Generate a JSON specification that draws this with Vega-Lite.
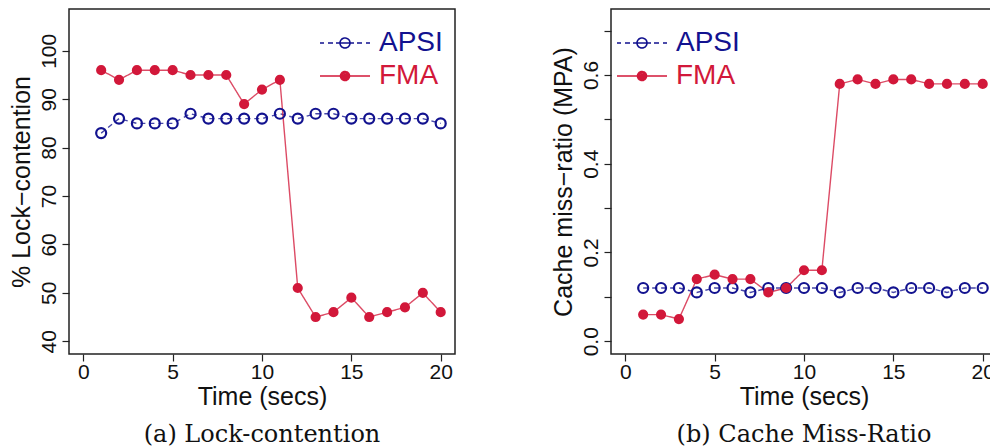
{
  "$schema": "https://vega.github.io/schema/vega-lite/v6.json",
  "padding": {"left": 8, "top": 8, "right": 0, "bottom": 0},
  "autosize": {"type": "pad"},
  "spacing": 94,
  "resolve": {"scale": {"color": "independent"}, "legend": {"color": "independent"}},
  "config": {
    "view": {"stroke": "#222222", "strokeWidth": 1.5},
    "axis": {
      "domain": false, "grid": false, "tickColor": "#222222", "tickSize": 7, "tickWidth": 1.2,
      "labelFont": "Liberation Sans", "labelFontSize": 21, "labelColor": "#111111",
      "titleFont": "Liberation Sans", "titleFontSize": 25, "titleFontWeight": "normal", "titleColor": "#111111",
      "labelOverlap": false
    },
    "title": {"font": "DejaVu Serif", "fontSize": 24, "fontWeight": "normal", "color": "#111111"},
    "legend": {
      "padding": 0,
      "labelFont": "Liberation Sans", "labelFontSize": 28, "rowPadding": 5
    }
  },
  "datasets": {
    "lock": [
      {"t": 1, "series": "APSI", "value": 83}, {"t": 2, "series": "APSI", "value": 86}, {"t": 3, "series": "APSI", "value": 85}, {"t": 4, "series": "APSI", "value": 85}, {"t": 5, "series": "APSI", "value": 85},
      {"t": 6, "series": "APSI", "value": 87}, {"t": 7, "series": "APSI", "value": 86}, {"t": 8, "series": "APSI", "value": 86}, {"t": 9, "series": "APSI", "value": 86}, {"t": 10, "series": "APSI", "value": 86},
      {"t": 11, "series": "APSI", "value": 87}, {"t": 12, "series": "APSI", "value": 86}, {"t": 13, "series": "APSI", "value": 87}, {"t": 14, "series": "APSI", "value": 87}, {"t": 15, "series": "APSI", "value": 86},
      {"t": 16, "series": "APSI", "value": 86}, {"t": 17, "series": "APSI", "value": 86}, {"t": 18, "series": "APSI", "value": 86}, {"t": 19, "series": "APSI", "value": 86}, {"t": 20, "series": "APSI", "value": 85},
      {"t": 1, "series": "FMA", "value": 96}, {"t": 2, "series": "FMA", "value": 94}, {"t": 3, "series": "FMA", "value": 96}, {"t": 4, "series": "FMA", "value": 96}, {"t": 5, "series": "FMA", "value": 96},
      {"t": 6, "series": "FMA", "value": 95}, {"t": 7, "series": "FMA", "value": 95}, {"t": 8, "series": "FMA", "value": 95}, {"t": 9, "series": "FMA", "value": 89}, {"t": 10, "series": "FMA", "value": 92},
      {"t": 11, "series": "FMA", "value": 94}, {"t": 12, "series": "FMA", "value": 51}, {"t": 13, "series": "FMA", "value": 45}, {"t": 14, "series": "FMA", "value": 46}, {"t": 15, "series": "FMA", "value": 49},
      {"t": 16, "series": "FMA", "value": 45}, {"t": 17, "series": "FMA", "value": 46}, {"t": 18, "series": "FMA", "value": 47}, {"t": 19, "series": "FMA", "value": 50}, {"t": 20, "series": "FMA", "value": 46}
    ],
    "cache": [
      {"t": 1, "series": "APSI", "value": 0.12}, {"t": 2, "series": "APSI", "value": 0.12}, {"t": 3, "series": "APSI", "value": 0.12}, {"t": 4, "series": "APSI", "value": 0.11}, {"t": 5, "series": "APSI", "value": 0.12},
      {"t": 6, "series": "APSI", "value": 0.12}, {"t": 7, "series": "APSI", "value": 0.11}, {"t": 8, "series": "APSI", "value": 0.12}, {"t": 9, "series": "APSI", "value": 0.12}, {"t": 10, "series": "APSI", "value": 0.12},
      {"t": 11, "series": "APSI", "value": 0.12}, {"t": 12, "series": "APSI", "value": 0.11}, {"t": 13, "series": "APSI", "value": 0.12}, {"t": 14, "series": "APSI", "value": 0.12}, {"t": 15, "series": "APSI", "value": 0.11},
      {"t": 16, "series": "APSI", "value": 0.12}, {"t": 17, "series": "APSI", "value": 0.12}, {"t": 18, "series": "APSI", "value": 0.11}, {"t": 19, "series": "APSI", "value": 0.12}, {"t": 20, "series": "APSI", "value": 0.12},
      {"t": 1, "series": "FMA", "value": 0.06}, {"t": 2, "series": "FMA", "value": 0.06}, {"t": 3, "series": "FMA", "value": 0.05}, {"t": 4, "series": "FMA", "value": 0.14}, {"t": 5, "series": "FMA", "value": 0.15},
      {"t": 6, "series": "FMA", "value": 0.14}, {"t": 7, "series": "FMA", "value": 0.14}, {"t": 8, "series": "FMA", "value": 0.11}, {"t": 9, "series": "FMA", "value": 0.12}, {"t": 10, "series": "FMA", "value": 0.16},
      {"t": 11, "series": "FMA", "value": 0.16}, {"t": 12, "series": "FMA", "value": 0.58}, {"t": 13, "series": "FMA", "value": 0.59}, {"t": 14, "series": "FMA", "value": 0.58}, {"t": 15, "series": "FMA", "value": 0.59},
      {"t": 16, "series": "FMA", "value": 0.59}, {"t": 17, "series": "FMA", "value": 0.58}, {"t": 18, "series": "FMA", "value": 0.58}, {"t": 19, "series": "FMA", "value": 0.58}, {"t": 20, "series": "FMA", "value": 0.58}
    ]
  },
  "hconcat": [
    {
      "width": 386, "height": 345,
      "data": {"name": "lock"},
      "title": {"text": "(a) Lock-contention", "orient": "bottom", "offset": 14},
      "encoding": {
        "x": {"field": "t", "type": "quantitative", "scale": {"domain": [-0.8, 20.8], "nice": false, "zero": false},
              "axis": {"values": [0, 5, 10, 15, 20], "title": "Time (secs)", "labelPadding": 0, "titlePadding": 2}},
        "y": {"field": "value", "type": "quantitative", "scale": {"domain": [37.36, 108.64], "nice": false, "zero": false},
              "axis": {"values": [40, 50, 60, 70, 80, 90, 100], "title": "% Lock−contention", "labelAngle": -90, "labelAlign": "center", "labelBaseline": "bottom", "labelPadding": 3, "titlePadding": 4}}
      },
      "layer": [
        {"mark": {"type": "line", "strokeWidth": 1.4, "strokeOpacity": 0.78},
         "encoding": {
           "color": {"field": "series", "type": "nominal", "scale": {"domain": ["APSI", "FMA"], "range": ["#12128f", "#d2183a"]},
             "legend": {"orient": "none", "legendX": 251, "legendY": 20, "title": null,
               "symbolSize": 400, "symbolStrokeWidth": 1.6, "symbolOffset": 11, "labelOffset": 20, "symbolDash": [1, 0], "symbolOpacity": 1,
               "symbolType": {"expr": "datum.value === 'APSI' ? 'M-2.5,0H-2.1M-1.7,0H-1.2M-0.9,0H0.9M1.2,0H1.7M2.1,0H2.5M-0.5,0A0.5,0.5,0,1,1,0.5,0A0.5,0.5,0,1,1,-0.5,0' : 'M-2.5,0H2.5M-0.45,0A0.45,0.45,0,1,1,0.45,0A0.45,0.45,0,1,1,-0.45,0M-0.3,0A0.3,0.3,0,1,1,0.3,0A0.3,0.3,0,1,1,-0.3,0M-0.15,0A0.15,0.15,0,1,1,0.15,0A0.15,0.15,0,1,1,-0.15,0'"},
               "labelColor": {"expr": "datum.value === 'APSI' ? '#12128f' : '#d2183a'"}}},
           "strokeDash": {"field": "series", "type": "nominal", "scale": {"domain": ["APSI", "FMA"], "range": [[5, 4], [1, 0]]}, "legend": null}}},
        {"mark": {"type": "point", "shape": "circle", "strokeWidth": 2.2, "opacity": 1},
         "encoding": {
           "size": {"field": "series", "type": "nominal", "scale": {"domain": ["APSI", "FMA"], "range": [100, 64]}, "legend": null},
           "fill": {"field": "series", "type": "nominal", "scale": {"domain": ["APSI", "FMA"], "range": ["transparent", "#d2183a"]}, "legend": null},
           "stroke": {"field": "series", "type": "nominal", "scale": {"domain": ["APSI", "FMA"], "range": ["#12128f", "#d2183a"]}, "legend": null}}}
      ]
    },
    {
      "width": 386, "height": 345,
      "data": {"name": "cache"},
      "title": {"text": "(b) Cache Miss-Ratio", "orient": "bottom", "offset": 14},
      "encoding": {
        "x": {"field": "t", "type": "quantitative", "scale": {"domain": [-0.8, 20.8], "nice": false, "zero": false},
              "axis": {"values": [0, 5, 10, 15, 20], "title": "Time (secs)", "labelPadding": 0, "titlePadding": 2}},
        "y": {"field": "value", "type": "quantitative", "scale": {"domain": [-0.0288, 0.7488], "nice": false, "zero": false},
              "axis": {"values": [0, 0.1, 0.2, 0.3, 0.4, 0.5, 0.6, 0.7], "title": "Cache miss−ratio (MPA)", "labelExpr": "round(datum.value * 10) % 2 == 0 && datum.value < 0.65 ? format(datum.value, '.1f') : ''", "labelAngle": -90, "labelAlign": "center", "labelBaseline": "bottom", "labelPadding": 3, "titlePadding": 4}}
      },
      "layer": [
        {"mark": {"type": "line", "strokeWidth": 1.4, "strokeOpacity": 0.78},
         "encoding": {
           "color": {"field": "series", "type": "nominal", "scale": {"domain": ["APSI", "FMA"], "range": ["#12128f", "#d2183a"]},
             "legend": {"orient": "none", "legendX": 6, "legendY": 20, "title": null,
               "symbolSize": 400, "symbolStrokeWidth": 1.6, "symbolOffset": 11, "labelOffset": 20, "symbolDash": [1, 0], "symbolOpacity": 1,
               "symbolType": {"expr": "datum.value === 'APSI' ? 'M-2.5,0H-2.1M-1.7,0H-1.2M-0.9,0H0.9M1.2,0H1.7M2.1,0H2.5M-0.5,0A0.5,0.5,0,1,1,0.5,0A0.5,0.5,0,1,1,-0.5,0' : 'M-2.5,0H2.5M-0.45,0A0.45,0.45,0,1,1,0.45,0A0.45,0.45,0,1,1,-0.45,0M-0.3,0A0.3,0.3,0,1,1,0.3,0A0.3,0.3,0,1,1,-0.3,0M-0.15,0A0.15,0.15,0,1,1,0.15,0A0.15,0.15,0,1,1,-0.15,0'"},
               "labelColor": {"expr": "datum.value === 'APSI' ? '#12128f' : '#d2183a'"}}},
           "strokeDash": {"field": "series", "type": "nominal", "scale": {"domain": ["APSI", "FMA"], "range": [[5, 4], [1, 0]]}, "legend": null}}},
        {"mark": {"type": "point", "shape": "circle", "strokeWidth": 2.2, "opacity": 1},
         "encoding": {
           "size": {"field": "series", "type": "nominal", "scale": {"domain": ["APSI", "FMA"], "range": [100, 64]}, "legend": null},
           "fill": {"field": "series", "type": "nominal", "scale": {"domain": ["APSI", "FMA"], "range": ["transparent", "#d2183a"]}, "legend": null},
           "stroke": {"field": "series", "type": "nominal", "scale": {"domain": ["APSI", "FMA"], "range": ["#12128f", "#d2183a"]}, "legend": null}}}
      ]
    }
  ]
}
